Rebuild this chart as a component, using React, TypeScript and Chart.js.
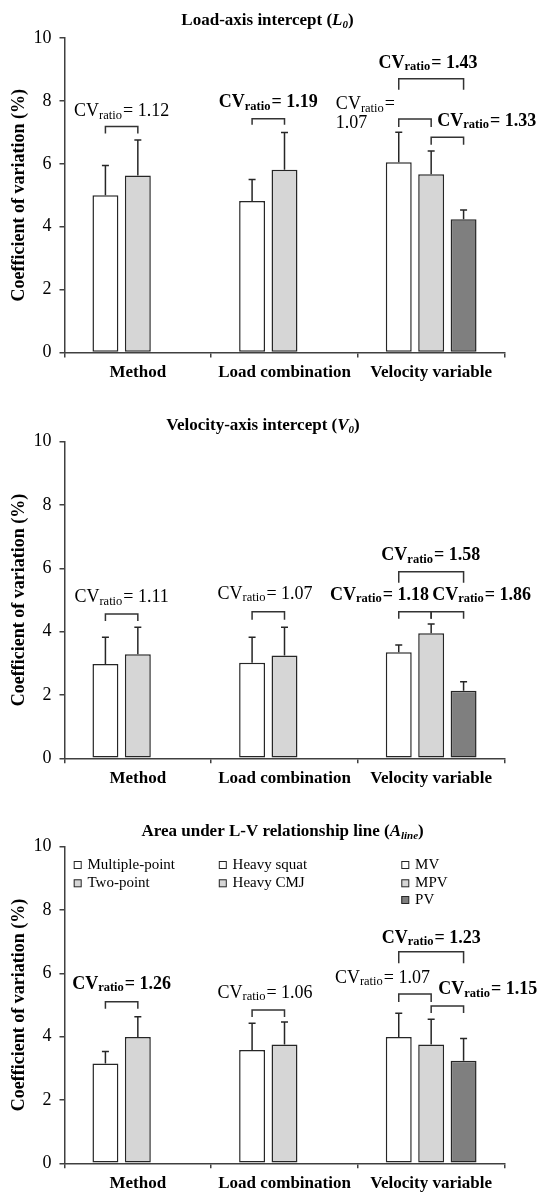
import React, { useEffect, useRef } from "react";
import { Chart, registerables } from "chart.js";

Chart.register(...registerables);

const FONT = '"Liberation Serif", "Times New Roman", serif';
const W = 538;

// ---------- data ----------
const categories = ["Method", "Load combination", "Velocity variable"];
const groupMembers = [
  ["Multiple-point", "Two-point"],
  ["Heavy squat", "Heavy CMJ"],
  ["MV", "MPV", "PV"],
];
const yAxisTitle = "Coefficient of variation (%)";
// comparisons: [category, slotA, slotB]
const comparisons = [
  [0, 0, 1],
  [1, 0, 1],
  [2, 0, 1],
  [2, 1, 2],
  [2, 0, 2],
];

// Load-axis intercept (L0)
const l0Slot1 = [5.0, 4.82, 6.05];
const l0Sd1 = [0.95, 0.68, 0.96];
const l0Slot2 = [5.63, 5.81, 5.67];
const l0Sd2 = [1.13, 1.19, 0.74];
const l0Slot3 = [null, null, 4.24];
const l0Sd3 = [null, null, 0.29];
const l0Ratios = ["1.12", "1.19", "1.07", "1.33", "1.43"];
const l0RatioBold = [false, true, false, true, true];

// Velocity-axis intercept (V0)
const v0Slot1 = [2.98, 3.02, 3.35];
const v0Sd1 = [0.84, 0.8, 0.23];
const v0Slot2 = [3.29, 3.25, 3.95];
const v0Sd2 = [0.85, 0.89, 0.29];
const v0Slot3 = [null, null, 2.13];
const v0Sd3 = [null, null, 0.29];
const v0Ratios = ["1.11", "1.07", "1.18", "1.86", "1.58"];
const v0RatioBold = [false, false, true, true, true];

// Area under L-V relationship line (Aline)
const aSlot1 = [3.15, 3.58, 3.99];
const aSd1 = [0.38, 0.84, 0.75];
const aSlot2 = [3.99, 3.75, 3.75];
const aSd2 = [0.64, 0.71, 0.8];
const aSlot3 = [null, null, 3.24];
const aSd3 = [null, null, 0.7];
const aRatios = ["1.26", "1.06", "1.07", "1.15", "1.23"];
const aRatioBold = [true, false, false, true, true];

// ---------- styles / layout ----------
const slotColors = ["#ffffff", "#d6d6d6", "#7f7f7f"];
const EDGE = "#262626";
const AXIS = "#404040";
const CAT_PCT = 0.663;
const BAR_PCT = 0.8;
const PLOT_LEFT = 64.5;
const PLOT_RIGHT = 504.5;

type Part = { t: string; i?: boolean; sub?: boolean };
type Lbl = { slot: number; align: "left" | "center" | "right"; y: number; split?: boolean };

const panels = [
  {
    key: "l0",
    top: 0,
    height: 405,
    areaTop: 38.2,
    areaBottom: 352.4,
    titleX: 267.5,
    titleBase: 25,
    title: [{ t: "Load-axis intercept (" }, { t: "L", i: true }, { t: "0", i: true, sub: true }, { t: ")" }] as Part[],
    bars: [l0Slot1, l0Slot2, l0Slot3],
    sds: [l0Sd1, l0Sd2, l0Sd3],
    ratios: l0Ratios,
    bold: l0RatioBold,
    bracketY: [7.19, 7.44, 7.43, 6.85, 8.71],
    bracketDrop: [7, 6, 8, 7.5, 11],
    labels: [
      { slot: 0.5, align: "center", y: 7.71 },
      { slot: 0.5, align: "center", y: 8.0 },
      { slot: -1.94, align: "left", y: 7.93, split: true },
      { slot: 1.19, align: "left", y: 7.4 },
      { slot: 0.9, align: "center", y: 9.25 },
    ] as Lbl[],
    legend: false,
  },
  {
    key: "v0",
    top: 405,
    height: 405,
    areaTop: 36.7,
    areaBottom: 353.3,
    titleX: 263,
    titleBase: 25,
    title: [{ t: "Velocity-axis intercept (" }, { t: "V", i: true }, { t: "0", i: true, sub: true }, { t: ")" }] as Part[],
    bars: [v0Slot1, v0Slot2, v0Slot3],
    sds: [v0Sd1, v0Sd2, v0Sd3],
    ratios: v0Ratios,
    bold: v0RatioBold,
    bracketY: [4.56, 4.63, 4.63, 4.63, 5.89],
    bracketDrop: [7, 8, 7, 7, 11],
    labels: [
      { slot: 0.5, align: "center", y: 5.12 },
      { slot: 0.4, align: "center", y: 5.23 },
      { slot: 0.93, align: "right", y: 5.19 },
      { slot: 1.03, align: "left", y: 5.19 },
      { slot: 0.99, align: "center", y: 6.45 },
    ] as Lbl[],
    legend: false,
  },
  {
    key: "aline",
    top: 810,
    height: 382,
    areaTop: 36.7,
    areaBottom: 353.3,
    titleX: 282.6,
    titleBase: 26,
    title: [
      { t: "Area under L-V relationship line (" },
      { t: "A", i: true },
      { t: "line", i: true, sub: true },
      { t: ")" },
    ] as Part[],
    bars: [aSlot1, aSlot2, aSlot3],
    sds: [aSd1, aSd2, aSd3],
    ratios: aRatios,
    bold: aRatioBold,
    bracketY: [5.1, 4.84, 5.35, 4.97, 6.68],
    bracketDrop: [7, 7, 8, 7, 11.5],
    labels: [
      { slot: 0.5, align: "center", y: 5.7 },
      { slot: 0.4, align: "center", y: 5.42 },
      { slot: -1.97, align: "left", y: 5.89 },
      { slot: 1.22, align: "left", y: 5.53 },
      { slot: 1.0, align: "center", y: 7.16 },
    ] as Lbl[],
    legend: true,
  },
];

const legendColX = [73.7, 218.8, 401.3];
const legendRowBase = [59, 77.3, 94];

// ---------- drawing helpers ----------
function drawCV(ctx: CanvasRenderingContext2D, x: number, yc: number, val: string, bold: boolean, align: string, split?: boolean) {
  const wt = bold ? "bold " : "";
  const mainF = `${wt}18px ${FONT}`;
  const subF = `${wt}12.5px ${FONT}`;
  ctx.save();
  ctx.fillStyle = "#000";
  ctx.textBaseline = "alphabetic";
  ctx.textAlign = "left";
  ctx.font = mainF;
  const wCV = ctx.measureText("CV").width;
  const wEq = ctx.measureText("=").width;
  const wSp = ctx.measureText(" ").width;
  const wVal = ctx.measureText(val).width;
  ctx.font = subF;
  const wR = ctx.measureText("ratio").width;
  const gap = 1;
  const line1 = wCV + wR + gap + wEq;
  const total = split ? line1 : line1 + wSp + wVal;
  const left = align === "center" ? x - total / 2 : align === "right" ? x - total : x;
  const base = yc + 6;
  ctx.font = mainF;
  ctx.fillText("CV", left, base);
  ctx.font = subF;
  ctx.fillText("ratio", left + wCV, base + 2.5);
  ctx.font = mainF;
  ctx.fillText("=", left + wCV + wR + gap, base);
  if (split) ctx.fillText(val, left, base + 18.5);
  else ctx.fillText(val, left + line1 + wSp, base);
  ctx.restore();
}

function drawTitle(ctx: CanvasRenderingContext2D, cx: number, base: number, parts: Part[]) {
  ctx.save();
  ctx.fillStyle = "#000";
  ctx.textBaseline = "alphabetic";
  ctx.textAlign = "left";
  const fontOf = (p: Part) => `${p.i ? "italic " : ""}bold ${p.sub ? 11 : 17}px ${FONT}`;
  let total = 0;
  const widths = parts.map((p) => {
    ctx.font = fontOf(p);
    const w = ctx.measureText(p.t).width;
    total += w;
    return w;
  });
  let x = cx - total / 2;
  parts.forEach((p, i) => {
    ctx.font = fontOf(p);
    ctx.fillText(p.t, x, base + (p.sub ? 3 : 0));
    x += widths[i];
  });
  ctx.restore();
}

function overlay(cfg: any) {
  return {
    id: "overlay-" + cfg.key,
    afterDatasetsDraw(chart: any) {
      const ctx: CanvasRenderingContext2D = chart.ctx;
      const xs = chart.scales.x;
      const ys = chart.scales.y;
      const catW = (xs.right - xs.left) / categories.length;
      const pitch = (catW * CAT_PCT) / 3;
      const slotX = (c: number, s: number) => xs.getPixelForValue(c) + (s - 1) * pitch;

      ctx.save();
      ctx.strokeStyle = EDGE;
      ctx.lineWidth = 1.5;
      // error bars
      cfg.sds.forEach((sdArr: (number | null)[], di: number) => {
        const meta = chart.getDatasetMeta(di);
        sdArr.forEach((sd, ci) => {
          const v = cfg.bars[di][ci];
          if (sd == null || v == null) return;
          const el = meta.data[ci];
          const cx = el ? el.x : slotX(ci, di);
          const y0 = ys.getPixelForValue(v);
          const y1 = ys.getPixelForValue(v + sd);
          ctx.beginPath();
          ctx.moveTo(cx, y0);
          ctx.lineTo(cx, y1);
          ctx.moveTo(cx - 3.5, y1);
          ctx.lineTo(cx + 3.5, y1);
          ctx.stroke();
        });
      });
      // brackets
      ctx.strokeStyle = "#333";
      comparisons.forEach(([c, a, b], k) => {
        const x1 = slotX(c, a);
        const x2 = slotX(c, b);
        const yTop = ys.getPixelForValue(cfg.bracketY[k]);
        const drop = cfg.bracketDrop[k];
        ctx.beginPath();
        ctx.moveTo(x1, yTop + drop);
        ctx.lineTo(x1, yTop);
        ctx.lineTo(x2, yTop);
        ctx.lineTo(x2, yTop + drop);
        ctx.stroke();
      });
      ctx.restore();
      // ratio labels
      comparisons.forEach(([c], k) => {
        const L: Lbl = cfg.labels[k];
        drawCV(ctx, slotX(c, L.slot), ys.getPixelForValue(L.y), cfg.ratios[k], cfg.bold[k], L.align, L.split);
      });
    },
    afterDraw(chart: any) {
      const ctx: CanvasRenderingContext2D = chart.ctx;
      drawTitle(ctx, cfg.titleX, cfg.titleBase, cfg.title);
      if (cfg.legend) {
        ctx.save();
        groupMembers.forEach((names, g) => {
          names.forEach((name, r) => {
            const bx = legendColX[g];
            const base = legendRowBase[r];
            ctx.fillStyle = slotColors[r];
            ctx.fillRect(bx, base - 8, 7.5, 7.5);
            ctx.strokeStyle = EDGE;
            ctx.lineWidth = 1;
            ctx.strokeRect(bx + 0.5, base - 7.5, 7, 7);
            ctx.fillStyle = "#000";
            ctx.font = `15px ${FONT}`;
            ctx.textAlign = "left";
            ctx.textBaseline = "alphabetic";
            ctx.fillText(name, bx + 13.8, base);
          });
        });
        ctx.restore();
      }
    },
  };
}

function Panel({ cfg }: { cfg: any }) {
  const ref = useRef<HTMLCanvasElement>(null);
  useEffect(() => {
    const canvas = ref.current!;
    const xAxisH = cfg.height - cfg.areaBottom;
    const chart = new Chart(canvas, {
      type: "bar",
      data: {
        labels: categories,
        datasets: cfg.bars.map((d: (number | null)[], i: number) => ({
          label: "slot " + (i + 1),
          data: d,
          backgroundColor: slotColors[i],
          borderColor: EDGE,
          borderWidth: 1.5,
          borderSkipped: false,
          categoryPercentage: CAT_PCT,
          barPercentage: BAR_PCT,
        })),
      },
      options: {
        responsive: false,
        animation: false,
        devicePixelRatio: 1,
        layout: { padding: { top: cfg.areaTop, left: 0, right: W - PLOT_RIGHT, bottom: 0 } },
        plugins: { legend: { display: false }, tooltip: { enabled: false }, title: { display: false } },
        scales: {
          x: {
            type: "category",
            offset: true,
            grid: { display: true, offset: true, drawOnChartArea: false, drawTicks: true, tickLength: 5, color: AXIS, lineWidth: 1.5 },
            border: { display: true, color: AXIS, width: 1.5 },
            ticks: { color: "#000", padding: 5.5, maxRotation: 0, autoSkip: false, font: { family: FONT, size: 17, weight: "bold" } },
            afterFit: (s: any) => {
              s.height = xAxisH;
            },
          },
          y: {
            min: 0,
            max: 10,
            ticks: { stepSize: 2, color: "#000", padding: 8, font: { family: FONT, size: 18 } },
            grid: { display: true, drawOnChartArea: false, drawTicks: true, tickLength: 5, color: AXIS, lineWidth: 1.5 },
            border: { display: true, color: AXIS, width: 1.5 },
            title: {
              display: true,
              text: yAxisTitle,
              color: "#000",
              padding: { top: 9, bottom: 0 },
              font: { family: FONT, size: 18, weight: "bold" },
            },
            afterFit: (s: any) => {
              s.width = PLOT_LEFT;
            },
          },
        },
      } as any,
      plugins: [overlay(cfg)],
    });
    return () => chart.destroy();
  }, [cfg]);
  return (
    <canvas
      ref={ref}
      width={W}
      height={cfg.height}
      style={{ position: "absolute", left: 0, top: cfg.top, width: W, height: cfg.height, display: "block" }}
    />
  );
}

export default function App() {
  return (
    <div style={{ position: "absolute", left: 0, top: 0, width: W, height: 1192, background: "#fff", overflow: "hidden" }}>
      {panels.map((p) => (
        <Panel key={p.key} cfg={p} />
      ))}
    </div>
  );
}
